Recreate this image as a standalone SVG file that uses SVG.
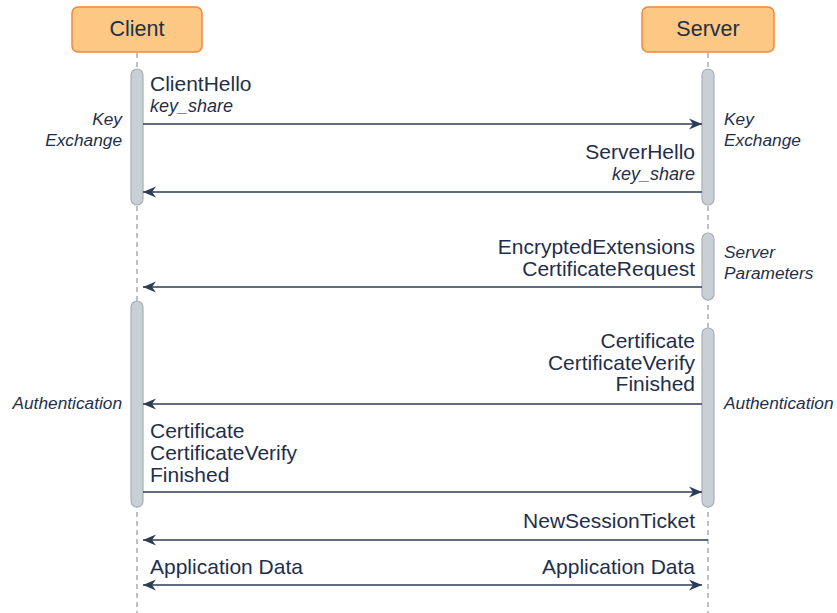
<svg xmlns="http://www.w3.org/2000/svg" width="837" height="613" viewBox="0 0 837 613">
<style>
.box{fill:#fdc883;stroke:#f5873a;stroke-width:1.5}
.bt{font-family:"Liberation Sans",Arial,sans-serif;font-size:21.5px;fill:#1f2f4a;text-anchor:middle}
.life{stroke:#9aa0a6;stroke-width:1.3;stroke-dasharray:5 4;fill:none}
.bar{fill:#c9cfd5;stroke:#a8b0b8;stroke-width:1.2}
.msg{stroke:#2b3c55;stroke-width:1.5;fill:none}
.t{font-family:"Liberation Sans",Arial,sans-serif;font-size:21px;fill:#1f2f4a}
.i{font-family:"Liberation Sans",Arial,sans-serif;font-size:17.3px;font-style:italic;fill:#1f2f4a}
.k{font-size:18px}
.r{text-anchor:end}
</style>
<defs>
<marker id="ah" markerWidth="14" markerHeight="12" refX="13" refY="6" orient="auto-start-reverse" markerUnits="userSpaceOnUse">
<path d="M13,6 L0,0.5 L4,6 L0,11.5 Z" fill="#2b3c55"/>
</marker>
</defs>
<g id="client">
<rect class="box" x="72" y="7" width="130" height="45" rx="6"/>
<text class="bt" x="137" y="36">Client</text>
</g>
<g id="server">
<rect class="box" x="642" y="7" width="132" height="45" rx="6"/>
<text class="bt" x="708" y="36">Server</text>
</g>
<g id="lifelines">
<line class="life" x1="137" y1="53" x2="137" y2="613"/>
<line class="life" x1="708" y1="53" x2="708" y2="613"/>
</g>
<g id="activations">
<rect class="bar" x="131" y="69" width="12" height="136" rx="6"/>
<rect class="bar" x="702" y="69" width="12" height="136" rx="6"/>
<rect class="bar" x="702" y="233" width="12" height="67" rx="6"/>
<rect class="bar" x="131" y="301" width="12" height="206" rx="6"/>
<rect class="bar" x="702" y="328" width="12" height="179" rx="6"/>
</g>
<g id="connectors">
<line class="msg" x1="143" y1="124" x2="702" y2="124" marker-end="url(#ah)"/>
<line class="msg" x1="702" y1="192" x2="143" y2="192" marker-end="url(#ah)"/>
<line class="msg" x1="702" y1="287" x2="143" y2="287" marker-end="url(#ah)"/>
<line class="msg" x1="702" y1="404" x2="143" y2="404" marker-end="url(#ah)"/>
<line class="msg" x1="143" y1="492" x2="702" y2="492" marker-end="url(#ah)"/>
<line class="msg" x1="708" y1="540" x2="143" y2="540" marker-end="url(#ah)"/>
<line class="msg" x1="143" y1="585" x2="702" y2="585" marker-start="url(#ah)" marker-end="url(#ah)"/>
</g>
<g id="labels">
<text class="t" x="150" y="91">ClientHello</text>
<text class="i k" x="150" y="112">key_share</text>
<text class="t r" x="695" y="159">ServerHello</text>
<text class="i k r" x="695" y="180">key_share</text>
<text class="t r" x="695" y="254">EncryptedExtensions</text>
<text class="t r" x="695" y="276">CertificateRequest</text>
<text class="t r" x="695" y="348">Certificate</text>
<text class="t r" x="695" y="370">CertificateVerify</text>
<text class="t r" x="695" y="391">Finished</text>
<text class="t" x="150" y="438">Certificate</text>
<text class="t" x="150" y="460">CertificateVerify</text>
<text class="t" x="150" y="482">Finished</text>
<text class="t r" x="695" y="528">NewSessionTicket</text>
<text class="t" x="150" y="574">Application Data</text>
<text class="t r" x="695" y="574">Application Data</text>
<text class="i r" x="122" y="125">Key</text>
<text class="i r" x="122" y="146">Exchange</text>
<text class="i" x="724" y="125">Key</text>
<text class="i" x="724" y="146">Exchange</text>
<text class="i" x="724" y="258">Server</text>
<text class="i" x="724" y="279">Parameters</text>
<text class="i r" x="122" y="409">Authentication</text>
<text class="i" x="724" y="409">Authentication</text>
</g>
</svg>
